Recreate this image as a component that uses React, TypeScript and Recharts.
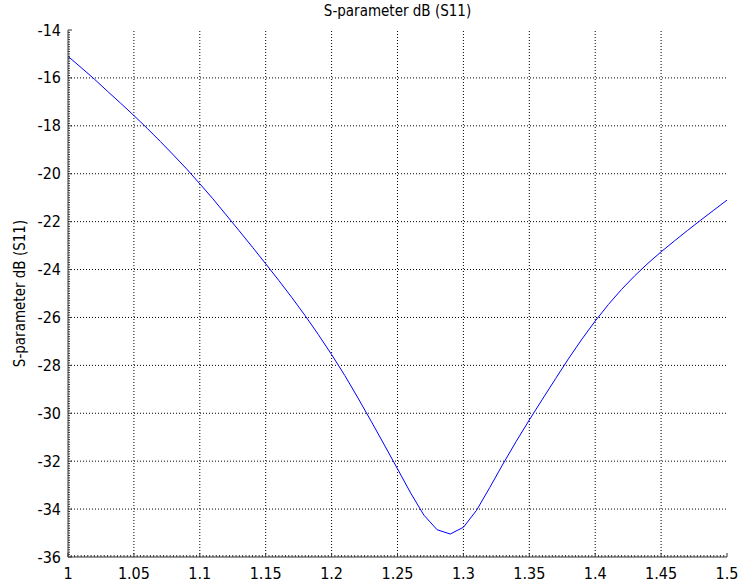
import { LineChart, Line, XAxis, YAxis, ReferenceLine } from "recharts"

// frequency (GHz) and S11 (dB)
const freq = [
  1.0, 1.01, 1.02, 1.03, 1.04, 1.05, 1.06, 1.07, 1.08, 1.09,
  1.1, 1.11, 1.12, 1.13, 1.14, 1.15, 1.16, 1.17, 1.18, 1.19,
  1.2, 1.21, 1.22, 1.23, 1.24, 1.25, 1.26, 1.27, 1.28, 1.29,
  1.3, 1.31, 1.32, 1.33, 1.34, 1.35, 1.36, 1.37, 1.38, 1.39,
  1.4, 1.41, 1.42, 1.43, 1.44, 1.45, 1.46, 1.47, 1.48, 1.49, 1.5,
]
const s11 = [
  -15.1, -15.57, -16.05, -16.56, -17.06, -17.57, -18.1, -18.65, -19.22, -19.8,
  -20.42, -21.05, -21.72, -22.39, -23.07, -23.76, -24.46, -25.18, -25.93, -26.72,
  -27.55, -28.42, -29.36, -30.33, -31.32, -32.32, -33.33, -34.25, -34.86, -35.04,
  -34.76, -34.05, -33.1, -32.12, -31.18, -30.28, -29.41, -28.55, -27.7, -26.9,
  -26.15, -25.46, -24.83, -24.26, -23.74, -23.26, -22.81, -22.37, -21.94, -21.52, -21.1,
]

const xMajor = [1, 1.05, 1.1, 1.15, 1.2, 1.25, 1.3, 1.35, 1.4, 1.45, 1.5]
const yMajor = [-36, -34, -32, -30, -28, -26, -24, -22, -20, -18, -16, -14]

const xMinor = Array.from({ length: 201 }, (_, i) => Math.round((1 + i * 0.0025) * 10000) / 10000)
const yMinor = Array.from({ length: 221 }, (_, i) => Math.round((-36 + i * 0.1) * 10) / 10)

const data = freq.map((f, i) => ({ f, v: s11[i] }))

const FONT = "'DejaVu Sans Condensed', 'DejaVu Sans', sans-serif"
const FRAME = "#333"
const X_MARGIN = 10
const Y_MARGIN = 7

const isMajorX = (v: number) => xMajor.some((m) => Math.abs(m - v) < 1e-6)
const isMajorY = (v: number) => yMajor.some((m) => Math.abs(m - v) < 1e-6)
const tickLen = (major: boolean) => (major ? 4 : 2)

const BottomTick = ({ x, y, payload }: any) => {
  const major = isMajorX(payload.value)
  const y0 = y - X_MARGIN
  return (
    <g>
      <line x1={x} x2={x} y1={y0} y2={y0 - tickLen(major)} stroke={FRAME} />
      {major && (
        <text x={x} y={y} dy={11.5} textAnchor="middle" fontSize={16} fontFamily={FONT} fill="#000">
          {payload.value}
        </text>
      )}
    </g>
  )
}

const TopTick = ({ x, y, payload }: any) => {
  const major = isMajorX(payload.value)
  return <line x1={x} x2={x} y1={y} y2={y + tickLen(major)} stroke={FRAME} />
}

const LeftTick = ({ x, y, payload }: any) => {
  const major = isMajorY(payload.value)
  const x0 = x + Y_MARGIN
  return (
    <g>
      <line x1={x0} x2={x0 + tickLen(major)} y1={y} y2={y} stroke={FRAME} />
      {major && (
        <text x={x} y={y} dy={5.5} textAnchor="end" fontSize={16} fontFamily={FONT} fill="#000">
          {payload.value}
        </text>
      )}
    </g>
  )
}

const RightTick = ({ x, y, payload }: any) => {
  const major = isMajorY(payload.value)
  return <line x1={x} x2={x - tickLen(major)} y1={y} y2={y} stroke={FRAME} />
}

export default function App() {
  return (
    <div style={{ position: "relative", width: 739, height: 584, background: "#fff" }}>
      <style>{"body{margin:0}"}</style>
      <div
        style={{
          position: "absolute",
          left: 68,
          width: 659,
          top: 2,
          textAlign: "center",
          fontFamily: FONT,
          fontSize: 15,
          color: "#000",
        }}
      >
        S-parameter dB (S11)
      </div>
      <LineChart width={739} height={584} data={data} margin={{ top: 30, right: 12, bottom: 0, left: 0 }}>
        <XAxis
          xAxisId="bottom"
          dataKey="f"
          type="number"
          domain={[1, 1.5]}
          ticks={xMinor}
          interval={0}
          height={27}
          tickSize={0}
          tickMargin={X_MARGIN}
          tickLine={false}
          axisLine={{ stroke: FRAME }}
          tick={<BottomTick />}
        />
        <XAxis
          xAxisId="top"
          orientation="top"
          type="number"
          domain={[1, 1.5]}
          ticks={xMinor}
          interval={0}
          height={0}
          tickSize={0}
          tickMargin={0}
          tickLine={false}
          axisLine={{ stroke: FRAME }}
          tick={<TopTick />}
        />
        <YAxis
          yAxisId="left"
          type="number"
          domain={[-36, -14]}
          ticks={yMinor}
          interval={0}
          width={68}
          tickSize={0}
          tickMargin={Y_MARGIN}
          tickLine={false}
          axisLine={{ stroke: FRAME }}
          tick={<LeftTick />}
          label={{
            content: ({ viewBox }: any) => {
              const cx = viewBox.x + 20
              const cy = viewBox.y + viewBox.height / 2
              return (
                <text
                  x={cx}
                  y={cy}
                  transform={`rotate(-90, ${cx}, ${cy})`}
                  textAnchor="middle"
                  dominantBaseline="central"
                  fontSize={15}
                  fontFamily={FONT}
                  fill="#000"
                >
                  S-parameter dB (S11)
                </text>
              )
            },
          }}
        />
        <YAxis
          yAxisId="right"
          orientation="right"
          type="number"
          domain={[-36, -14]}
          ticks={yMinor}
          interval={0}
          width={0}
          tickSize={0}
          tickMargin={0}
          tickLine={false}
          axisLine={{ stroke: FRAME }}
          tick={<RightTick />}
        />
        {xMajor.slice(1, -1).map((t) => (
          <ReferenceLine
            key={`vx${t}`}
            x={t}
            xAxisId="bottom"
            yAxisId="left"
            stroke="#000"
            strokeDasharray="1 2"
          />
        ))}
        {yMajor.slice(1, -1).map((t) => (
          <ReferenceLine
            key={`hy${t}`}
            y={t}
            xAxisId="bottom"
            yAxisId="left"
            stroke="#000"
            strokeDasharray="1 2"
          />
        ))}
        <Line
          xAxisId="bottom"
          yAxisId="left"
          type="linear"
          dataKey="v"
          stroke="#0000ff"
          strokeWidth={1}
          dot={false}
          isAnimationActive={false}
        />
      </LineChart>
    </div>
  )
}
